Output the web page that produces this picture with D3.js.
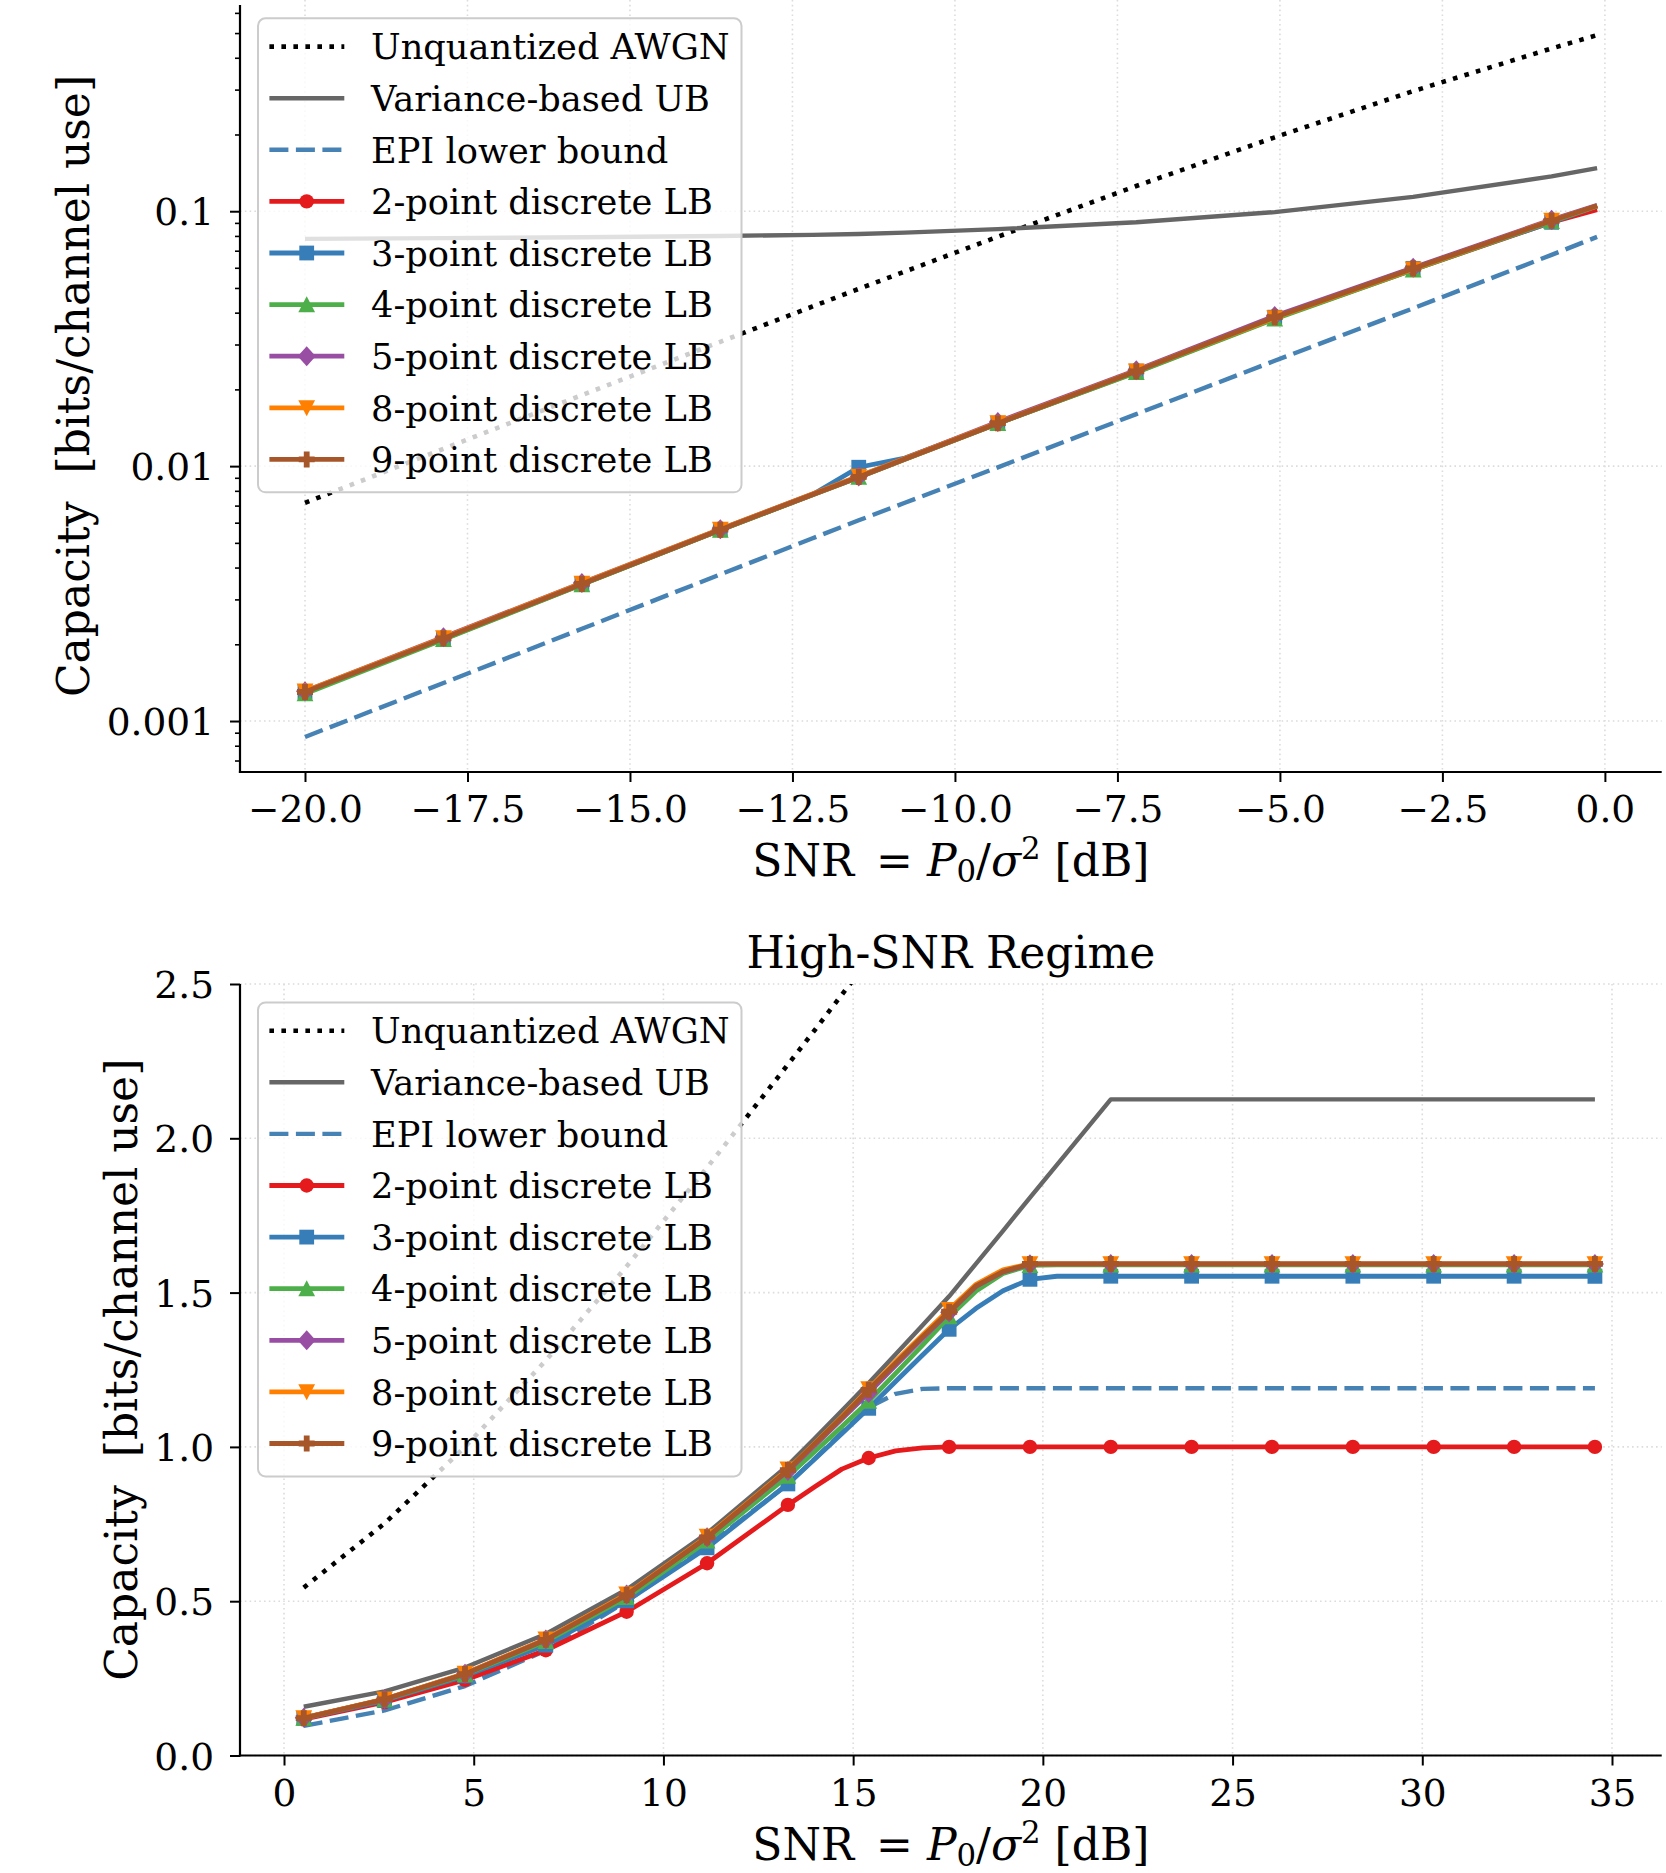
<!DOCTYPE html>
<html>
<head>
<meta charset="utf-8">
<script src="https://cdn.jsdelivr.net/npm/d3@7"></script>
<style>
  body { margin: 0; background: #fff; }
  svg text { font-family: "DejaVu Serif", serif; fill: #000; }
</style>
</head>
<body>
<svg id="chart" width="1666" height="1873"></svg>
<script>
'use strict';

// legend labels, in drawing order
var seriesNames = ['Unquantized AWGN', 'Variance-based UB', 'EPI lower bound',
  '2-point discrete LB', '3-point discrete LB', '4-point discrete LB',
  '5-point discrete LB', '8-point discrete LB', '9-point discrete LB'];

// ---- low-SNR panel (log y) ----
var topSnr = [-20.0, -17.87, -15.74, -13.61, -12.19, -11.48, -10.77, -9.34, -7.21, -5.08, -2.95, -0.82, -0.12];
var topMarkIdx = [0, 1, 2, 3, 5, 7, 8, 9, 10, 11];
var topAwgn = [0.00718, 0.01169, 0.01899, 0.03075, 0.0423, 0.04959, 0.0580, 0.07944, 0.1256, 0.1950, 0.2959, 0.4351, 0.4909];
var topUb = [0.0779, 0.0784, 0.0790, 0.0800, 0.0808, 0.0814, 0.0824, 0.0851, 0.0905, 0.0992, 0.1138, 0.1370, 0.1477];
var topEpi = [0.000866, 0.00141, 0.00230, 0.00376, 0.00521, 0.00613, 0.00718, 0.00989, 0.0160, 0.0259, 0.0416, 0.0674, 0.0793];
var top2pt = [0.00130, 0.00210, 0.00344, 0.00562, 0.00772, 0.00905, 0.01063, 0.0147, 0.0234, 0.0380, 0.0590, 0.0905, 0.1014];
var top3pt = [0.00130, 0.00211, 0.00345, 0.00563, 0.00774, 0.00990, 0.01075, 0.01474, 0.0236, 0.0384, 0.0597, 0.0905, 0.1045];
var top4pt = [0.00128, 0.00209, 0.00343, 0.00561, 0.00772, 0.00905, 0.01063, 0.0147, 0.0233, 0.0378, 0.0589, 0.0912, 0.1048];
var top5pt = [0.00131, 0.00213, 0.00348, 0.00566, 0.00777, 0.00910, 0.01071, 0.0149, 0.0238, 0.0388, 0.0600, 0.0925, 0.1055];
var top8pt = [0.00131, 0.00212, 0.00347, 0.00565, 0.00777, 0.00912, 0.01071, 0.0148, 0.0236, 0.0382, 0.0593, 0.0920, 0.1048];
var top9pt = [0.00130, 0.00211, 0.00345, 0.00563, 0.00774, 0.00907, 0.01066, 0.01474, 0.02354, 0.0384, 0.0596, 0.0917, 0.1051];
var topXTicks = [-20, -17.5, -15, -12.5, -10, -7.5, -5, -2.5, 0];
var topXTickLabels = ['\u221220.0', '\u221217.5', '\u221215.0', '\u221212.5', '\u221210.0', '\u22127.5', '\u22125.0', '\u22122.5', '0.0'];
var topYTicks = [0.001, 0.01, 0.1];
var topYTickLabels = ['0.001', '0.01', '0.1'];
var topYMinor = [0.0007, 0.0008, 0.0009, 0.002, 0.003, 0.004, 0.005, 0.006, 0.007, 0.008, 0.009,
  0.02, 0.03, 0.04, 0.05, 0.06, 0.07, 0.08, 0.09, 0.2, 0.3, 0.4, 0.5, 0.6];

// ---- high-SNR panel (linear y) ----
var botSnr = [0.52, 2.65, 4.77, 6.90, 9.03, 11.15, 13.28, 13.99, 14.70, 15.41, 16.12, 16.83, 17.53,
  18.24, 18.95, 19.66, 20.37, 21.08, 21.79, 23.92, 26.04, 28.17, 30.30, 32.42, 34.55];
var botMarkIdx = [0, 1, 2, 3, 4, 5, 6, 9, 12, 15, 18, 19, 20, 21, 22, 23, 24];
var botAwgn = [0.544, 0.752, 1.000, 1.280, 1.585, 1.905, 2.239, 2.351, 2.465, 2.579, 2.693];
var botUb = [0.158, 0.208, 0.285, 0.394, 0.538, 0.720, 0.940, 1.028, 1.117, 1.207, 1.300, 1.394, 1.488,
  1.594, 1.700, 1.808, 1.914, 2.020, 2.126, 2.126, 2.126, 2.126, 2.126, 2.126, 2.126];
var botEpi = [0.096, 0.146, 0.225, 0.340, 0.500, 0.679, 0.879, 0.962, 1.046, 1.128, 1.172, 1.188, 1.190,
  1.190, 1.190, 1.190, 1.190, 1.190, 1.190, 1.190, 1.190, 1.190, 1.190, 1.190, 1.190];
var bot2pt = [0.118, 0.173, 0.245, 0.341, 0.466, 0.623, 0.812, 0.871, 0.928, 0.964, 0.987, 0.997, 1.000,
  1.000, 1.000, 1.000, 1.000, 1.000, 1.000, 1.000, 1.000, 1.000, 1.000, 1.000, 1.000];
var bot3pt = [0.120, 0.178, 0.258, 0.358, 0.501, 0.673, 0.880, 0.961, 1.043, 1.125, 1.212, 1.298, 1.381,
  1.449, 1.506, 1.543, 1.553, 1.553, 1.553, 1.553, 1.553, 1.553, 1.553, 1.553, 1.553];
var bot4pt = [0.121, 0.181, 0.262, 0.370, 0.512, 0.695, 0.905, 0.985, 1.065, 1.148, 1.238, 1.330, 1.422,
  1.505, 1.562, 1.588, 1.590, 1.590, 1.590, 1.590, 1.590, 1.590, 1.590, 1.590, 1.590];
var bot5pt = [0.122, 0.182, 0.265, 0.376, 0.522, 0.707, 0.922, 1.005, 1.090, 1.175, 1.264, 1.352, 1.436,
  1.520, 1.567, 1.592, 1.593, 1.593, 1.593, 1.593, 1.593, 1.593, 1.593, 1.593, 1.593];
var bot8pt = [0.122, 0.183, 0.266, 0.377, 0.523, 0.710, 0.928, 1.012, 1.098, 1.188, 1.277, 1.363, 1.445,
  1.527, 1.574, 1.593, 1.593, 1.593, 1.593, 1.593, 1.593, 1.593, 1.593, 1.593, 1.593];
var bot9pt = [0.121, 0.182, 0.264, 0.375, 0.520, 0.707, 0.925, 1.010, 1.095, 1.185, 1.271, 1.357, 1.438,
  1.522, 1.568, 1.593, 1.593, 1.593, 1.593, 1.593, 1.593, 1.593, 1.593, 1.593, 1.593];
var botXTicks = [0, 5, 10, 15, 20, 25, 30, 35];
var botXTickLabels = ['0', '5', '10', '15', '20', '25', '30', '35'];
var botYTicks = [0, 0.5, 1.0, 1.5, 2.0, 2.5];
var botYTickLabels = ['0.0', '0.5', '1.0', '1.5', '2.0', '2.5'];

// line styles (same order as seriesNames)
var styles = [
  {color: '#000000', width: 4.6, dash: '4.6,7.4', marker: null},
  {color: '#666666', width: 4.4, dash: null, marker: null},
  {color: '#4682b4', width: 4.4, dash: '19,7.5', marker: null},
  {color: '#e41a1c', width: 4.8, dash: null, marker: 'o'},
  {color: '#377eb8', width: 4.8, dash: null, marker: 's'},
  {color: '#4daf4a', width: 4.8, dash: null, marker: '^'},
  {color: '#984ea3', width: 4.8, dash: null, marker: 'D'},
  {color: '#ff7f00', width: 4.8, dash: null, marker: 'v'},
  {color: '#a65628', width: 4.8, dash: null, marker: 'P'}
];

var svg = d3.select('#chart');
var plotLeft = 240, plotRight = 1661.7;
var tickFont = 37.5, legendFont = 35.2, labelFont = 44;

function markerPath(type) {
  if (type === 'o') {
    var p = d3.path();
    p.arc(0, 0, 7.2, 0, 2 * Math.PI);
    return p.toString();
  }
  if (type === 's') return 'M-7.4,-7.4H7.4V7.4H-7.4Z';
  if (type === '^') return 'M0,-8.4L8.4,7.6L-8.4,7.6Z';
  if (type === 'v') return 'M0,8.4L8.4,-7.6L-8.4,-7.6Z';
  if (type === 'D') return 'M0,-10L9,0L0,10L-9,0Z';
  if (type === 'P') return 'M-2.9,-8H2.9V-2.9H8V2.9H2.9V8H-2.9V2.9H-8V-2.9H-2.9Z';
  return null;
}

function drawPanel(p) {
  var x = d3.scaleLinear().domain(p.xDomain).range([plotLeft, plotRight]);
  var y = (p.log ? d3.scaleLog() : d3.scaleLinear()).domain(p.yDomain).range([p.bottom, p.top]);
  var g = svg.append('g');

  // dotted grid at major ticks
  var grid = g.append('g').attr('stroke', '#dcdcdc').attr('stroke-width', 1.6)
    .attr('stroke-dasharray', '1.6,3.2');
  grid.selectAll('line.gx').data(p.xTicks).enter().append('line')
    .attr('x1', function(d) { return x(d); }).attr('x2', function(d) { return x(d); })
    .attr('y1', p.top).attr('y2', p.bottom);
  grid.selectAll('line.gy').data(p.yTicks).enter().append('line')
    .attr('x1', plotLeft).attr('x2', plotRight)
    .attr('y1', function(d) { return y(d); }).attr('y2', function(d) { return y(d); });

  // clip region for the curves
  svg.append('clipPath').attr('id', p.id + '-clip')
    .append('rect').attr('x', plotLeft).attr('y', p.top)
    .attr('width', plotRight - plotLeft).attr('height', p.bottom - p.top);

  var line = d3.line()
    .x(function(d) { return x(d[0]); })
    .y(function(d) { return y(d[1]); });

  var curves = g.append('g').attr('clip-path', 'url(#' + p.id + '-clip)');
  p.series.forEach(function(vals, k) {
    var st = styles[k];
    var pts = vals.map(function(v, i) { return [p.snr[i], v]; });
    curves.append('path')
      .datum(pts)
      .attr('fill', 'none')
      .attr('stroke', st.color)
      .attr('stroke-width', st.width)
      .attr('stroke-dasharray', st.dash)
      .attr('stroke-linejoin', 'round')
      .attr('d', line);
    if (st.marker) {
      curves.selectAll('path.m' + k)
        .data(p.markIdx.map(function(i) { return pts[i]; }))
        .enter().append('path')
          .attr('class', 'm' + k)
          .attr('transform', function(d) { return 'translate(' + x(d[0]) + ',' + y(d[1]) + ')'; })
          .attr('d', markerPath(st.marker))
          .attr('fill', st.color);
    }
  });

  // x axis
  var xAxis = g.append('g')
    .attr('transform', 'translate(0,' + p.bottom + ')')
    .call(d3.axisBottom(x).tickValues(p.xTicks)
      .tickFormat(function(d, i) { return p.xTickLabels[i]; })
      .tickSize(10).tickSizeOuter(0).tickPadding(13.4));
  xAxis.attr('font-family', null).attr('font-size', tickFont);
  xAxis.select('.domain').remove();
  xAxis.selectAll('.tick line').attr('stroke-width', 2);

  // y axis
  var yAxis = g.append('g')
    .attr('transform', 'translate(' + plotLeft + ',0)')
    .call(d3.axisLeft(y).tickValues(p.yTicks)
      .tickFormat(function(d, i) { return p.yTickLabels[i]; })
      .tickSize(10).tickSizeOuter(0).tickPadding(16));
  yAxis.attr('font-family', null).attr('font-size', tickFont);
  yAxis.select('.domain').remove();
  yAxis.selectAll('.tick line').attr('stroke-width', 2);
  yAxis.selectAll('.tick text').attr('dy', '0.365em');

  if (p.yMinor) {
    var yMinor = g.append('g')
      .attr('transform', 'translate(' + plotLeft + ',0)')
      .call(d3.axisLeft(y).tickValues(p.yMinor).tickFormat('').tickSize(5).tickSizeOuter(0));
    yMinor.select('.domain').remove();
    yMinor.selectAll('.tick line').attr('stroke-width', 1.6);
  }

  // left and bottom spines
  g.append('line').attr('x1', plotLeft).attr('x2', plotLeft)
    .attr('y1', p.spineTop).attr('y2', p.bottom + 1.1)
    .attr('stroke', '#000').attr('stroke-width', 2.2);
  g.append('line').attr('x1', plotLeft - 1.1).attr('x2', plotRight)
    .attr('y1', p.bottom).attr('y2', p.bottom)
    .attr('stroke', '#000').attr('stroke-width', 2.2);

  // axis labels
  var cx = (plotLeft + plotRight) / 2;
  var xl = g.append('text')
    .attr('x', cx).attr('y', p.bottom + 104)
    .attr('text-anchor', 'middle')
    .attr('font-size', labelFont)
    .style('white-space', 'pre');
  xl.append('tspan').text('SNR ');
  xl.append('tspan').attr('dx', 8).text('= ');
  xl.append('tspan').attr('font-style', 'italic').text('P');
  xl.append('tspan').attr('font-size', labelFont * 0.7).attr('dy', 6).text('0');
  xl.append('tspan').attr('dy', -6).text('/');
  xl.append('tspan').attr('font-style', 'italic').text('\u03c3');
  xl.append('tspan').attr('font-size', labelFont * 0.7).attr('dy', -17).text('2');
  xl.append('tspan').attr('dy', 17).text(' [dB]');

  g.append('text')
    .attr('transform', 'translate(' + p.yLabelX + ',' + ((p.top + p.bottom) / 2) + ') rotate(-90)')
    .attr('text-anchor', 'middle')
    .attr('font-size', labelFont)
    .style('white-space', 'pre')
    .text('Capacity  [bits/channel use]');

  if (p.title) {
    g.append('text')
      .attr('x', cx).attr('y', p.top - 16)
      .attr('text-anchor', 'middle')
      .attr('font-size', labelFont)
      .text(p.title);
  }

  // legend, upper left
  var lg = g.append('g').attr('transform', 'translate(258,' + p.legendTop + ')');
  lg.append('rect')
    .attr('x', 0).attr('y', 0).attr('width', 483.5).attr('height', 474)
    .attr('rx', 7.5).attr('ry', 7.5)
    .attr('fill', '#fff').attr('fill-opacity', 0.8)
    .attr('stroke', '#cccccc').attr('stroke-width', 2);
  seriesNames.forEach(function(name, k) {
    var st = styles[k];
    var ry = 28.3 + k * 51.6;
    lg.append('line')
      .attr('x1', 11.4).attr('x2', 86.3).attr('y1', ry).attr('y2', ry)
      .attr('stroke', st.color).attr('stroke-width', st.width)
      .attr('stroke-dasharray', st.dash);
    if (st.marker) {
      lg.append('path')
        .attr('transform', 'translate(48.7,' + ry + ')')
        .attr('d', markerPath(st.marker))
        .attr('fill', st.color);
    }
    lg.append('text')
      .attr('x', 113).attr('y', ry + 12.8)
      .attr('font-size', legendFont)
      .text(name);
  });
}

drawPanel({
  id: 'low', log: true,
  top: 0, spineTop: 5, bottom: 772,
  xDomain: [-21.0, 0.874], yDomain: [0.000631, 0.674],
  snr: topSnr, markIdx: topMarkIdx,
  series: [topAwgn, topUb, topEpi, top2pt, top3pt, top4pt, top5pt, top8pt, top9pt],
  xTicks: topXTicks, xTickLabels: topXTickLabels,
  yTicks: topYTicks, yTickLabels: topYTickLabels, yMinor: topYMinor,
  yLabelX: 89, legendTop: 18.3, title: null
});

drawPanel({
  id: 'high', log: false,
  top: 984, spineTop: 984, bottom: 1755.5,
  xDomain: [-1.16, 36.31], yDomain: [0, 2.5],
  snr: botSnr, markIdx: botMarkIdx,
  series: [botAwgn, botUb, botEpi, bot2pt, bot3pt, bot4pt, bot5pt, bot8pt, bot9pt],
  xTicks: botXTicks, xTickLabels: botXTickLabels,
  yTicks: botYTicks, yTickLabels: botYTickLabels, yMinor: null,
  yLabelX: 137, legendTop: 1002.4, title: 'High-SNR Regime'
});
</script>
</body>
</html>
